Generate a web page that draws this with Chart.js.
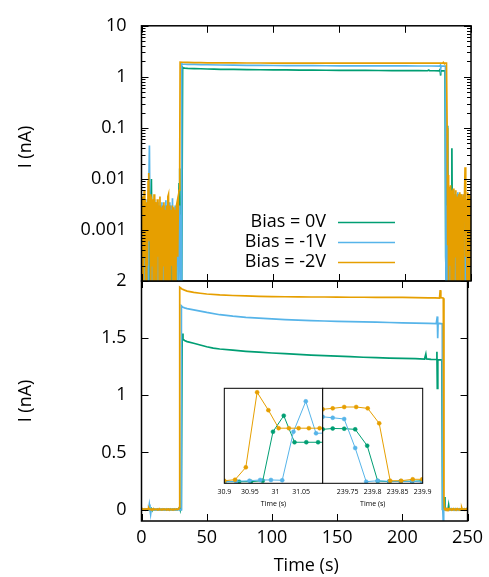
<!DOCTYPE html>
<html><head><meta charset="utf-8">
<style>
html,body{margin:0;padding:0;background:#fff;overflow:hidden}
#wrap{position:relative;width:489px;height:577px}
#wrap canvas{position:absolute;left:0;top:0}
</style>
<script src="https://cdn.jsdelivr.net/npm/chart.js@4.4.1/dist/chart.umd.min.js"></script>
</head><body>
<div id="wrap">
<canvas id="cBot" width="489" height="577"></canvas>
<canvas id="cTop" width="489" height="577"></canvas>
<canvas id="cInL" width="489" height="577"></canvas>
<canvas id="cInR" width="489" height="577"></canvas>
</div>
<script>
// ---------------- DATA ----------------
const seriesNames = ['Bias = 0V', 'Bias = -1V', 'Bias = -2V'];

// dark-current noise before the light pulse (s, nA)
const preT = [0,0.5,1,1.5,2,2.5,3,3.5,4,4.5,5,5.5,6,6.5,7,7.5,8,8.5,9,9.5,10,10.5,11,11.5,12,12.5,13,13.5,14,14.5,
  15,15.5,16,16.5,17,17.5,18,18.5,19,19.5,20,20.5,21,21.5,22,22.5,23,23.5,24,24.5,25,25.5,26,26.5,27,27.5,28,28.5];
const pre0 = [0.0008,0.00003,0.0006,0.0001,0.0012,0.00004,0.0004,0.00008,0.0015,0.00003,
  0.0005,0.0002,0.0009,0.00004,0.004,0.01,0.0003,0.00003,0.0007,0.0001,
  0.0011,0.00004,0.0003,0.00008,0.0006,0.00003,0.0009,0.0001,0.0002,0.00004,
  0.0004,0.00003,0.0008,0.0001,0.0003,0.00004,0.0006,0.00003,0.0002,0.0001,
  0.0005,0.00004,0.0009,0.00003,0.0003,0.0001,0.0007,0.00004,0.0004,0.00003,
  0.001,0.0001,0.0003,0.00004,0.002,0.0006,0.002,0.008];
const pre1 = [0.0002,0.003,0.00005,0.0035,0.0001,0.0025,0.00004,0.003,0.0002,0.004,
  0.0001,0.006,0.045,0.0008,-0.04,0.003,0.00005,0.0035,0.0001,0.004,
  0.00004,0.0025,0.0002,0.003,0.00005,0.0035,0.0001,0.0028,0.00004,0.003,
  0.0002,0.0035,0.00005,0.0025,0.0001,0.003,0.00004,0.0038,0.0002,0.003,
  0.00005,0.0028,0.0001,0.0035,0.00004,0.003,0.0002,0.0042,0.00005,0.0025,
  0.0001,0.003,0.00004,0.0028,0.0002,0.003,0.00005,0.0025];
const pre2 = [0.004,0.00005,0.0045,0.0001,0.006,0.0003,0.004,0.00004,0.0035,0.0002,
  0.009,0.013,0.0006,0.005,0.00005,0.0045,0.0002,0.004,0.00004,0.005,
  0.0001,0.0035,0.0025,0.00005,0.004,0.0003,0.003,0.00004,0.0045,0.0001,
  0.0028,0.00005,0.003,0.0002,0.0035,0.00004,0.0025,0.0001,0.003,0.00005,
  0.0045,0.005,0.0001,0.003,0.00004,0.0025,0.0002,0.003,0.00005,0.0028,
  0.0001,0.0025,0.00005,0.003,0.0035,0.0003,0.0045,0.006];

// photocurrent: rise, plateau and fall (s, nA)
const mainT0 = [29.0,29.5,30.5,31.2,31.8,33,35,40,45,50,55,60,70,80,90,100,110,120,130,140,150,160,170,180,190,200,210,217,218,218.5,222,226,226.5,226.8,227.2,230.3,230.8,231.5,232.3,232.7];
const main0  = [0.016,0.0003,0.0001,1.54,1.49,1.48,1.47,1.455,1.44,1.425,1.412,1.405,1.395,1.385,1.377,1.37,1.365,1.358,1.352,1.347,1.343,1.338,1.333,1.33,1.326,1.323,1.32,1.317,1.36,1.318,1.315,1.313,1.38,1.06,1.31,1.31,0.0003,0.00005,0.11,0.0004];
const mainT1 = [29.0,29.5,30.0,30.4,30.6,31.5,33,35,40,45,50,60,70,80,90,100,110,120,130,140,150,160,170,180,190,200,210,220,226,226.8,227.1,227.4,230.6,231.0,231.3,231.7,232.3];
const main1  = [0.003,0.0001,0.002,0.00005,1.783,1.772,1.765,1.758,1.748,1.737,1.725,1.705,1.692,1.682,1.675,1.668,1.662,1.657,1.653,1.65,1.647,1.645,1.642,1.64,1.637,1.634,1.631,1.629,1.627,1.69,1.50,1.63,1.625,0.00005,-0.09,0.003,0.0001];
const mainT2 = [29.0,29.3,31,33,35,40,45,50,60,70,80,90,100,110,120,130,140,150,160,170,180,190,200,210,220,225,228.5,229,229.5,231.4,231.9,232.3,232.6];
const main2  = [0.02,1.945,1.93,1.92,1.912,1.9,1.893,1.886,1.878,1.873,1.869,1.866,1.864,1.862,1.861,1.860,1.860,1.859,1.858,1.858,1.857,1.857,1.856,1.855,1.853,1.852,1.85,1.92,1.855,1.85,0.1,0.0005,0.012];

// noise after the pulse (s, nA)
const tailT = [233,233.5,234,234.5,235,235.5,236,236.5,237,237.5,238,238.5,239,239.5,240,240.5,241,241.5,242,242.5,
  243,243.5,244,244.5,245,245.5,246,246.5,247,247.5,248,248.5,249,249.5,250];
const tail0 = [0.0002,0.002,0.00004,0.0008,0.00005,0.04,0.0001,0.0005,0.00003,0.0012,0.00008,0.0004,0.00003,0.0009,0.0001,0.0006,0.00004,0.0015,0.00003,0.0005,
  0.0001,0.0008,0.00004,0.0003,0.00003,0.0012,0.0001,0.0005,0.00004,0.0009,0.00003,0.0004,0.0001,0.0007,0.00004];
const tail1 = [0.005,0.00005,0.006,0.0001,0.0055,0.00004,0.005,0.0002,0.006,0.00005,0.0045,0.0001,0.005,0.00004,0.0055,0.0002,0.005,0.00005,0.0045,0.0001,
  0.005,0.00004,0.004,0.0002,0.0045,0.00005,0.004,0.0001,0.0035,0.00004,0.004,0.0002,0.0035,0.00005,0.003];
const tail2 = [0.00005,0.007,0.0002,0.0075,0.00004,0.006,0.0001,0.0065,0.00005,0.005,0.0003,0.006,0.00004,0.0045,0.0001,0.005,0.00005,0.0055,0.0002,0.005,
  0.00005,0.0045,0.0001,0.005,0.004,0.017,0.0003,0.004,0.00005,0.0055,0.0001,0.005,0.00004,0.0045,0.0002];

// insets (relative current, 0..1 of the inset height)
const inLT0 = [30.900,30.929,30.952,30.975,30.995,31.016,31.037,31.060,31.083,31.100];
const inL0  = [0.017,0.017,0.017,0.027,0.543,0.712,0.432,0.432,0.432,0.432];
const inLT1 = [30.900,30.923,30.949,30.970,30.991,31.013,31.035,31.059,31.079,31.100];
const inL1  = [0.017,0.021,0.027,0.035,0.035,0.032,0.543,0.863,0.526,0.53];
const inLT2 = [30.900,30.921,30.942,30.964,30.986,31.006,31.026,31.045,31.065,31.086,31.106];
const inL2  = [0.027,0.038,0.168,0.958,0.770,0.58,0.58,0.58,0.58,0.58,0.58];
const inRT0 = [239.700,239.720,239.743,239.765,239.789,239.810,239.833,239.856,239.879,239.899];
const inR0  = [0.568,0.577,0.575,0.568,0.396,0.024,0.017,0.021,0.021,0.027];
const inRT1 = [239.700,239.720,239.743,239.765,239.787,239.810,239.833,239.856,239.879,239.899];
const inR1  = [0.700,0.690,0.677,0.372,0.017,0.027,0.021,0.021,0.021,0.014];
const inRT2 = [239.700,239.720,239.743,239.767,239.790,239.813,239.835,239.857,239.880,239.899];
const inR2  = [0.779,0.789,0.803,0.803,0.789,0.631,0.027,0.027,0.042,0.042];

// ticks
const xTicks = [0,50,100,150,200,250];
const logTicks = [0.001,0.01,0.1,1,10];
const logTickLabels = ['0.001','0.01','0.1','1','10'];
const linTicks = [0,0.5,1,1.5,2];
const linTickLabels = ['0','0.5','1','1.5','2'];
const inLTicks = [30.9,30.95,31,31.05];
const inLTickLabels = ['30.9','30.95','31','31.05'];
const inRTicks = [239.75,239.8,239.85,239.9];
const inRTickLabels = ['239.75','239.8','239.85','239.9'];

// ---------------- STYLE / BUILD ----------------
const COLORS = ['#009E73', '#56B4E9', '#E69F00'];
const FONT = "'Open Sans', 'Noto Sans', sans-serif";
Chart.defaults.font.family = FONT;
Chart.defaults.font.size = 18;
Chart.defaults.color = '#000';
Chart.defaults.animation = false;

function pts(ts, vs) { return ts.map((t, i) => ({x: t, y: vs[i]})); }
const full = [
  pts(preT, pre0).concat(pts(mainT0, main0), pts(tailT, tail0)),
  pts(preT, pre1).concat(pts(mainT1, main1), pts(tailT, tail1)),
  pts(preT, pre2).concat(pts(mainT2, main2), pts(tailT, tail2))
];
function mainDatasets() {
  return full.map((d, i) => ({
    label: seriesNames[i], data: d, borderColor: COLORS[i], backgroundColor: COLORS[i],
    borderWidth: 1.7, pointRadius: 0, tension: 0, order: 3 - i
  }));
}

const framePlugin = {
  id: 'frame',
  afterDatasetsDraw(chart, args, o) {
    if (!o || !o.on) return;
    const {ctx, chartArea: a} = chart;
    const xs = chart.scales.x, ys = chart.scales.y;
    ctx.save();
    ctx.strokeStyle = '#000';
    ctx.lineWidth = 1;
    ctx.beginPath();
    const L = 7, l = 4;
    (o.xMajor || []).forEach(v => {
      const p = Math.round(xs.getPixelForValue(v)) + 0.5;
      ctx.moveTo(p, a.bottom); ctx.lineTo(p, a.bottom - L);
      ctx.moveTo(p, a.top); ctx.lineTo(p, a.top + L);
    });
    const yt = (v, len) => {
      const p = Math.round(ys.getPixelForValue(v)) + 0.5;
      ctx.moveTo(a.left, p); ctx.lineTo(a.left + len, p);
      ctx.moveTo(a.right, p); ctx.lineTo(a.right - len, p);
    };
    (o.yMajor || []).forEach(v => yt(v, L));
    (o.yMinor || []).forEach(v => yt(v, l));
    ctx.stroke();
    ctx.lineWidth = o.bw || 1.5;
    ctx.strokeRect(a.left, a.top, a.width, a.height);
    ctx.restore();
  }
};
const textPlugin = {
  id: 'texts',
  afterDraw(chart, args, o) {
    if (!o || !o.items) return;
    const ctx = chart.ctx;
    ctx.save();
    ctx.fillStyle = '#000';
    o.items.forEach(it => {
      ctx.save();
      ctx.font = it.font;
      ctx.textAlign = it.align || 'center';
      ctx.textBaseline = 'middle';
      ctx.translate(it.x, it.y);
      if (it.rot) ctx.rotate(it.rot);
      ctx.fillText(it.text, 0, 0);
      ctx.restore();
    });
    (o.legend || []).forEach((lg, i) => {
      ctx.font = lg.font;
      ctx.textAlign = 'right';
      ctx.textBaseline = 'middle';
      ctx.fillText(seriesNames[i], lg.tx, lg.y);
      ctx.strokeStyle = COLORS[i];
      ctx.lineWidth = 1.6;
      ctx.beginPath();
      ctx.moveTo(lg.x0, lg.y + 0.5); ctx.lineTo(lg.x1, lg.y + 0.5);
      ctx.stroke();
    });
    ctx.restore();
  }
};
const bgPlugin = {
  id: 'insetBg',
  beforeDatasetsDraw(chart, args, o) {
    if (!o || !o.on) return;
    const {ctx, chartArea: a} = chart;
    ctx.save(); ctx.fillStyle = '#fff';
    ctx.fillRect(a.left, a.top, a.width, a.height);
    ctx.restore();
  }
};
Chart.register(framePlugin, textPlugin, bgPlugin);

const PL = 141.5, PR = 471, TOP = 13, MID = 281, BOT = 521, W = 489, H = 577;
const setTicks = vals => s => { s.ticks = vals.map(v => ({value: v})); };
const labelFrom = (vals, labs) => v => { const k = vals.findIndex(t => Math.abs(t - v) < 1e-9); return k < 0 ? '' : labs[k]; };

const minorLog = [];
for (let d = -4; d < 1; d++) for (let k = 2; k <= 9; k++) minorLog.push(k * Math.pow(10, d));

const FT = "18px " + FONT;
// bottom (linear) panel
new Chart(document.getElementById('cBot'), {
  type: 'line',
  data: {datasets: mainDatasets()},
  options: {
    responsive: false, devicePixelRatio: 1, animation: false, events: [],
    layout: {padding: {left: 0, right: W - PR, top: MID, bottom: 0}},
    plugins: {legend: {display: false}, tooltip: {enabled: false},
      frame: {on: true, xMajor: xTicks, yMajor: linTicks},
      texts: {items: [
        {text: 'Time (s)', x: (PL + PR) / 2, y: 566, font: FT},
        {text: 'I (nA)', x: 26, y: (MID + BOT) / 2, font: FT, rot: -Math.PI / 2}
      ]}},
    scales: {
      x: {type: 'linear', min: 0, max: 250, afterBuildTicks: setTicks(xTicks),
        afterFit: s => { s.height = H - BOT; },
        grid: {display: false, drawTicks: false}, border: {display: false},
        ticks: {padding: 6, autoSkip: false, maxRotation: 0, callback: v => String(v)}},
      y: {type: 'linear', min: -0.1, max: 2, afterBuildTicks: setTicks(linTicks),
        afterFit: s => { s.width = PL; },
        grid: {display: false, drawTicks: false}, border: {display: false},
        ticks: {padding: 15, autoSkip: false, callback: labelFrom(linTicks, linTickLabels)}}
    }
  }
});

// top (log) panel
new Chart(document.getElementById('cTop'), {
  type: 'line',
  data: {datasets: mainDatasets()},
  options: {
    responsive: false, devicePixelRatio: 1, animation: false, events: [],
    layout: {padding: {left: 0, right: W - PR, top: TOP, bottom: H - MID}},
    plugins: {legend: {display: false}, tooltip: {enabled: false},
      frame: {on: true, xMajor: xTicks, yMajor: logTicks, yMinor: minorLog},
      texts: {items: [
        {text: 'I (nA)', x: 26, y: (TOP + MID) / 2, font: FT, rot: -Math.PI / 2}
      ], legend: [
        {tx: 326, y: 222, x0: 338, x1: 395, font: FT},
        {tx: 326, y: 242, x0: 338, x1: 395, font: FT},
        {tx: 326, y: 262, x0: 338, x1: 395, font: FT}
      ]}},
    scales: {
      x: {type: 'linear', min: 0, max: 250, display: false},
      y: {type: 'logarithmic', min: 0.0001, max: 10, afterBuildTicks: setTicks(logTicks),
        afterFit: s => { s.width = PL; },
        grid: {display: false, drawTicks: false}, border: {display: false},
        ticks: {padding: 15, autoSkip: false, callback: labelFrom(logTicks, logTickLabels)}}
    }
  }
});

// insets
const IN_TOP = 388.3, IN_BOT = 483.3, IN_L = 224.3, IN_M = 322.7, IN_R = 422.7;
function inset(id, left, right, xmin, xmax, tickVals, tickLabs, ts, vs) {
  const FS = "7px " + FONT;
  return new Chart(document.getElementById(id), {
    type: 'line',
    data: {datasets: [0, 1, 2].map(i => ({
      label: seriesNames[i], data: pts(ts[i], vs[i]),
      borderColor: COLORS[i], backgroundColor: COLORS[i], borderWidth: 1,
      pointRadius: 2, pointBorderWidth: 0.5, pointStyle: 'circle', tension: 0, order: 3 - i
    }))},
    options: {
      responsive: false, devicePixelRatio: 1, animation: false, events: [],
      layout: {padding: {left: left, right: W - right, top: IN_TOP, bottom: 0}},
      plugins: {legend: {display: false}, tooltip: {enabled: false},
        insetBg: {on: true},
        frame: {on: true, bw: 1},
        texts: {items: [{text: 'Time (s)', x: (left + right) / 2, y: 503.5, font: FS}]}},
      scales: {
        x: {type: 'linear', min: xmin, max: xmax, afterBuildTicks: setTicks(tickVals),
          afterFit: s => { s.height = H - IN_BOT; },
          grid: {display: false, drawTicks: false}, border: {display: false},
          ticks: {padding: 4, autoSkip: false, maxRotation: 0, font: {size: 7},
            callback: labelFrom(tickVals, tickLabs)}},
        y: {type: 'linear', min: 0, max: 1, display: false}
      }
    }
  });
}
inset('cInL', IN_L, IN_M, 30.9, 31.092, inLTicks, inLTickLabels,
  [inLT0, inLT1, inLT2], [inL0, inL1, inL2]);
inset('cInR', IN_M, IN_R, 239.7, 239.9, inRTicks, inRTickLabels,
  [inRT0, inRT1, inRT2], [inR0, inR1, inR2]);
</script>
</body></html>
